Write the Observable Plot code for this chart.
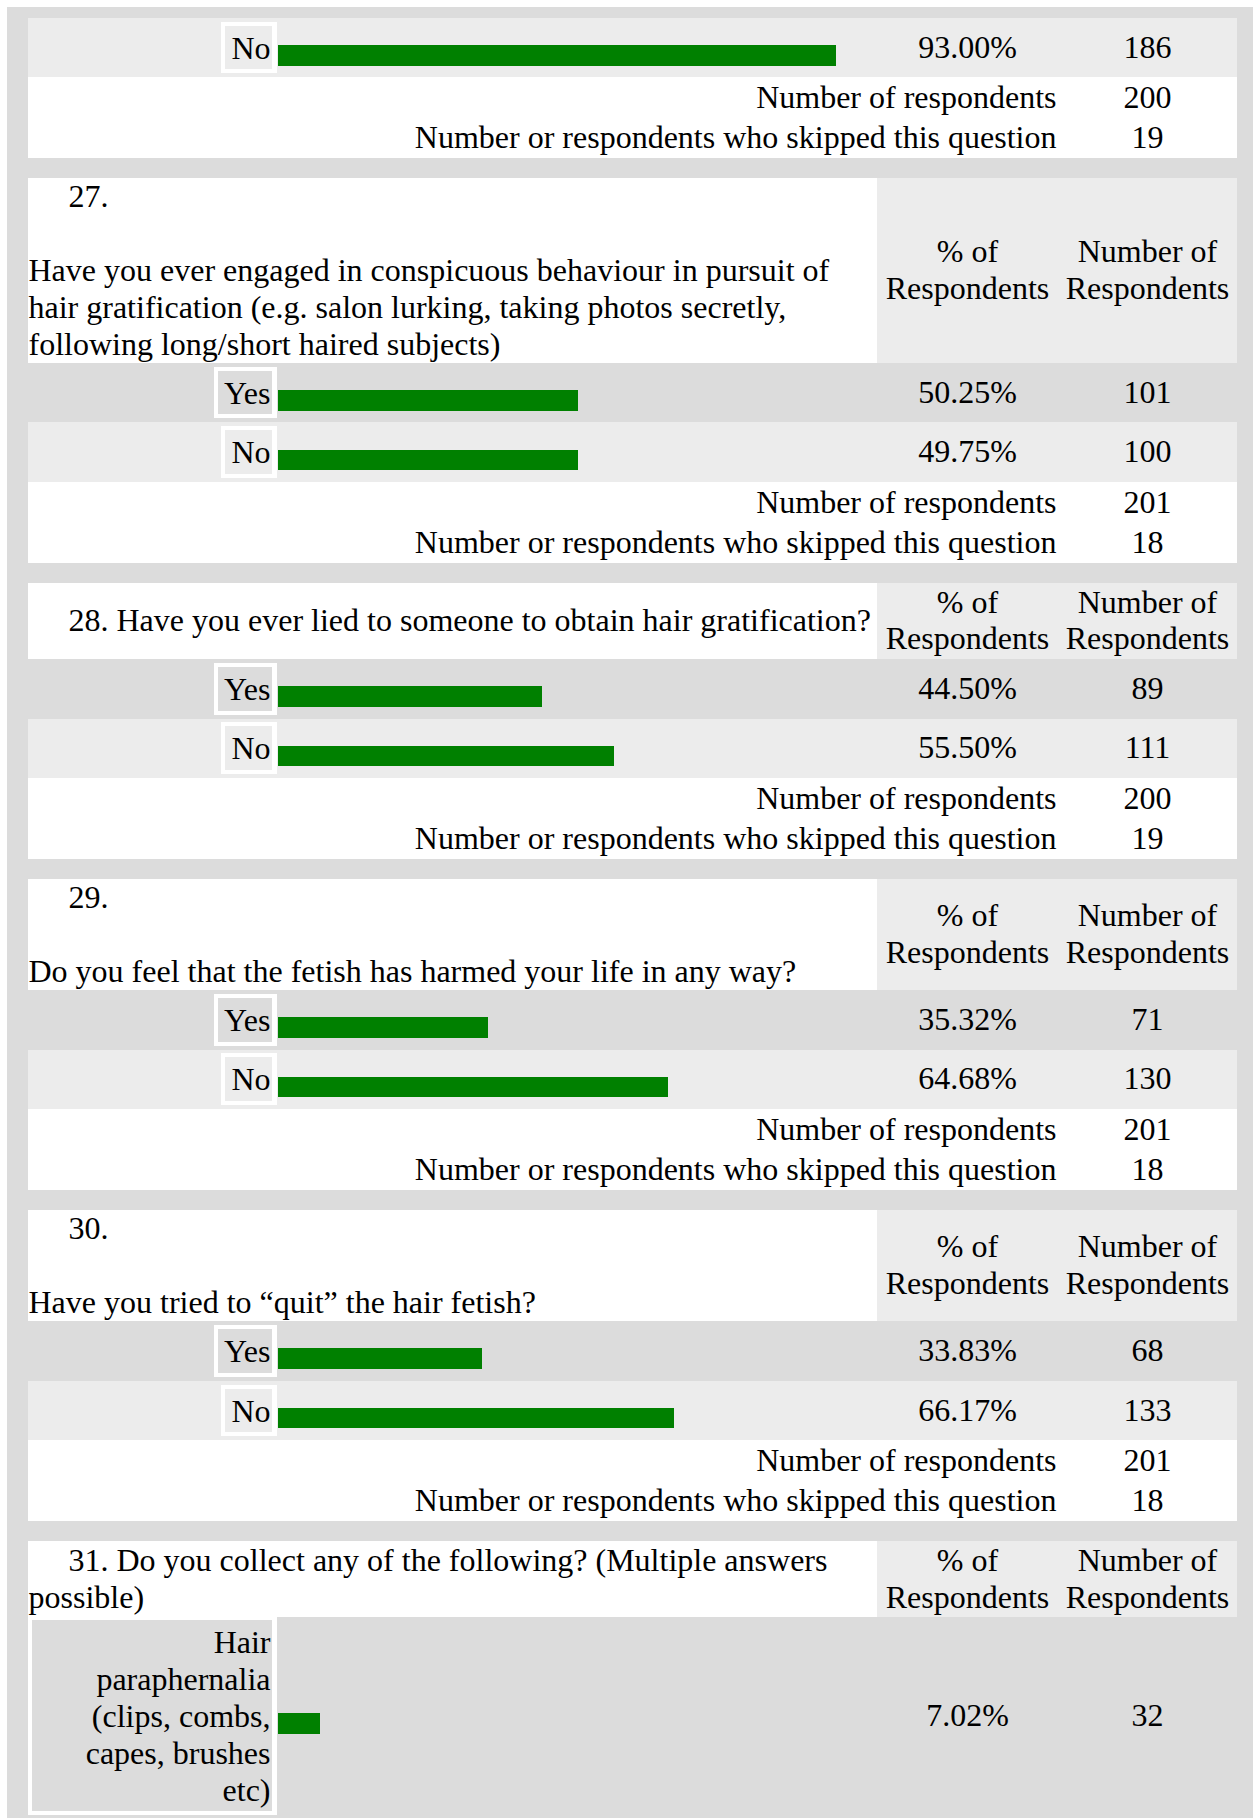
<!DOCTYPE html>
<html>
<head>
<meta charset="utf-8">
<script src="https://cdn.jsdelivr.net/npm/d3@7"></script>
<script src="https://cdn.jsdelivr.net/npm/@observablehq/plot@0.6"></script>
<style>
html, body { margin: 0; padding: 0; background: #ffffff; overflow: hidden; }
#chart svg { display: block; }
</style>
</head>
<body>
<div id="chart"></div>
<script>
// ---------------- DATA ----------------
const questionNumbers = ["26", "27", "28", "29", "30", "31"];
const questionTexts = [
  "", // question 26 header is above the visible area
  "Have you ever engaged in conspicuous behaviour in pursuit of hair gratification (e.g. salon lurking, taking photos secretly, following long/short haired subjects)",
  "Have you ever lied to someone to obtain hair gratification?",
  "Do you feel that the fetish has harmed your life in any way?",
  "Have you tried to “quit” the hair fetish?",
  "Do you collect any of the following? (Multiple answers possible)"
];
const optionQuestion = ["26", "27", "27", "28", "28", "29", "29", "30", "30", "31"];
const optionLabels = ["No", "Yes", "No", "Yes", "No", "Yes", "No", "Yes", "No",
  "Hair paraphernalia (clips, combs, capes, brushes etc)"];
const optionPercents = [93.00, 50.25, 49.75, 44.50, 55.50, 35.32, 64.68, 33.83, 66.17, 7.02];
const optionCounts = [186, 101, 100, 89, 111, 71, 130, 68, 133, 32];
const respondentCounts = [200, 201, 200, 201, 201, null];
const skippedCounts = [19, 18, 19, 18, 18, null];
const columnHeaders = ["% of\nRespondents", "Number of\nRespondents"];
const footerLabels = ["Number of respondents", "Number or respondents who skipped this question"];

// ---------------- LAYOUT ----------------
const W = 1253, H = 1818;
const FONT = "'Liberation Serif', 'Times New Roman', Times, serif";
const FS = 32, LH = 36.8;
const GRAY = "#dcdcdc", LIGHT = "#ececec", WHITE = "#ffffff", GREEN = "#008000";
const PANEL_L = 28, PANEL_R = 1237, COL_SPLIT = 877;
const PCT_X = 967, CNT_X = 1147, LABEL_R = 270, NUM_X = 68, TEXT_X = 28, FOOT_R = 1056;
const NUMBER_ON_OWN_LINE = new Set(["27", "29", "30"]);
const FIRST_VISIBLE_OPTION = {"26": 1}; // the first option of Q26 lies above the crop

// the source page sized its bar images from whole percentages (round half to even)
function roundHalfEven(v) {
  const f = Math.floor(v), d = v - f;
  if (Math.abs(d - 0.5) < 1e-9) return f % 2 === 0 ? f : f + 1;
  return Math.round(v);
}

const ctx = document.createElement("canvas").getContext("2d");
ctx.font = `${FS}px 'Liberation Serif'`;
const tw = s => ctx.measureText(s).width;

function wrapText(text, maxWidth, firstIndent = 0) {
  const words = text.split(" ");
  const lines = [];
  let line = "";
  for (const w of words) {
    const test = line ? line + " " + w : w;
    const avail = maxWidth - (lines.length === 0 ? firstIndent : 0);
    if (line && tw(test) > avail) { lines.push(line); line = w; }
    else line = test;
  }
  if (line) lines.push(line);
  return lines;
}

const rects = [];
const texts = [];
const bars = [];
const R = v => Math.round(v);

rects.push({layer: 0, x1: 7, x2: W, y1: 7, y2: H, fill: GRAY});

let y = 17.7;
questionNumbers.forEach((qn, qi) => {
  const qText = questionTexts[qi];
  if (qText) {
    let h;
    if (NUMBER_ON_OWN_LINE.has(qn)) {
      const lines = wrapText(qText, 850);
      h = 111 + (lines.length - 1) * LH;
      texts.push({x: NUM_X, anchor: "start", y: y + 28.7, text: qn + "."});
      lines.forEach((l, i) => texts.push({
        x: TEXT_X, anchor: "start", y: y + h - 8.5 - (lines.length - 1 - i) * LH, text: l
      }));
    } else {
      const lines = wrapText(qn + ". " + qText, 850, 40);
      h = Math.max(76, lines.length * LH + 2.4);
      const c = y + h / 2;
      lines.forEach((l, i) => texts.push({
        x: i === 0 ? NUM_X : TEXT_X, anchor: "start",
        y: c + 9.5 + (i - (lines.length - 1) / 2) * LH, text: l
      }));
    }
    rects.push({layer: 1, x1: PANEL_L, x2: PANEL_R, y1: R(y), y2: R(y + h), fill: WHITE});
    rects.push({layer: 2, x1: COL_SPLIT, x2: PANEL_R, y1: R(y), y2: R(y + h), fill: LIGHT});
    const c = y + h / 2;
    texts.push({x: PCT_X, anchor: "middle", y: c + 28, text: columnHeaders[0]});
    texts.push({x: CNT_X, anchor: "middle", y: c + 28, text: columnHeaders[1]});
    y += h;
  }
  let k = FIRST_VISIBLE_OPTION[qn] || 0;
  optionQuestion.forEach((oq, oi) => {
    if (oq !== qn) return;
    const lines = wrapText(optionLabels[oi], 210);
    const h = Math.max(59.6, lines.length * LH + 13.6);
    const c = y + h / 2;
    const fill = k % 2 === 0 ? GRAY : LIGHT;
    k++;
    rects.push({layer: 1, x1: PANEL_L, x2: PANEL_R, y1: R(y), y2: R(y + h), fill});
    const lw = Math.max(...lines.map(tw));
    const fx1 = lines.length > 1 ? PANEL_L : R(LABEL_R - lw - 9.5);
    const fh = lines.length * LH + 15;
    rects.push({layer: 3, x1: fx1, x2: 277, y1: R(c - fh / 2), y2: R(c + fh / 2), fill: WHITE});
    rects.push({layer: 4, x1: fx1 + 4, x2: 272, y1: R(c - fh / 2 + 4), y2: R(c + fh / 2 - 4), fill});
    texts.push({x: LABEL_R, anchor: "end", y: c + 10.5 + (lines.length - 1) / 2 * LH, text: lines.join("\n")});
    bars.push({percent: optionPercents[oi], y1: R(c - 2.5), y2: R(c + 18)});
    texts.push({x: PCT_X, anchor: "middle", y: c + 9.5, text: optionPercents[oi].toFixed(2) + "%"});
    texts.push({x: CNT_X, anchor: "middle", y: c + 9.5, text: String(optionCounts[oi])});
    y += h;
  });
  if (respondentCounts[qi] != null) {
    const h = 80.6;
    rects.push({layer: 1, x1: PANEL_L, x2: PANEL_R, y1: R(y), y2: R(y + h), fill: WHITE});
    texts.push({x: FOOT_R, anchor: "end", y: y + 30.5, text: footerLabels[0]});
    texts.push({x: FOOT_R, anchor: "end", y: y + 70.5, text: footerLabels[1]});
    texts.push({x: CNT_X, anchor: "middle", y: y + 30.5, text: String(respondentCounts[qi])});
    texts.push({x: CNT_X, anchor: "middle", y: y + 70.5, text: String(skippedCounts[qi])});
    y += h + 20.3;
  }
});

function rectMarks(layer) {
  return d3.groups(rects.filter(r => r.layer === layer), r => r.x1 + "|" + r.x2)
    .map(([, g]) => Plot.rect(g, {
      y1: "y1", y2: "y2",
      insetLeft: g[0].x1, insetRight: W - g[0].x2,
      fill: d => d.fill
    }));
}

const textMarks = d3.groups(texts, t => t.x + "|" + t.anchor).map(([, g]) =>
  Plot.text(g, {
    y: "y", text: "text",
    frameAnchor: "left", dx: g[0].x,
    textAnchor: g[0].anchor, lineAnchor: "bottom",
    lineHeight: LH / FS, fontSize: FS, fontFamily: FONT, fill: "black"
  })
);

const chart = Plot.plot({
  width: W,
  height: H,
  margin: 0,
  x: {domain: [0, 100], range: [278, 878], axis: null},
  y: {type: "identity", axis: null},
  color: {type: "identity"},
  style: {background: "#ffffff", fontFamily: FONT, fontSize: "32px", color: "black"},
  marks: [
    ...[0, 1, 2, 3, 4].flatMap(rectMarks),
    Plot.rect(bars, {x1: () => 0, x2: d => roundHalfEven(d.percent), y1: "y1", y2: "y2", fill: GREEN}),
    ...textMarks
  ]
});
document.getElementById("chart").appendChild(chart);
</script>
</body>
</html>
